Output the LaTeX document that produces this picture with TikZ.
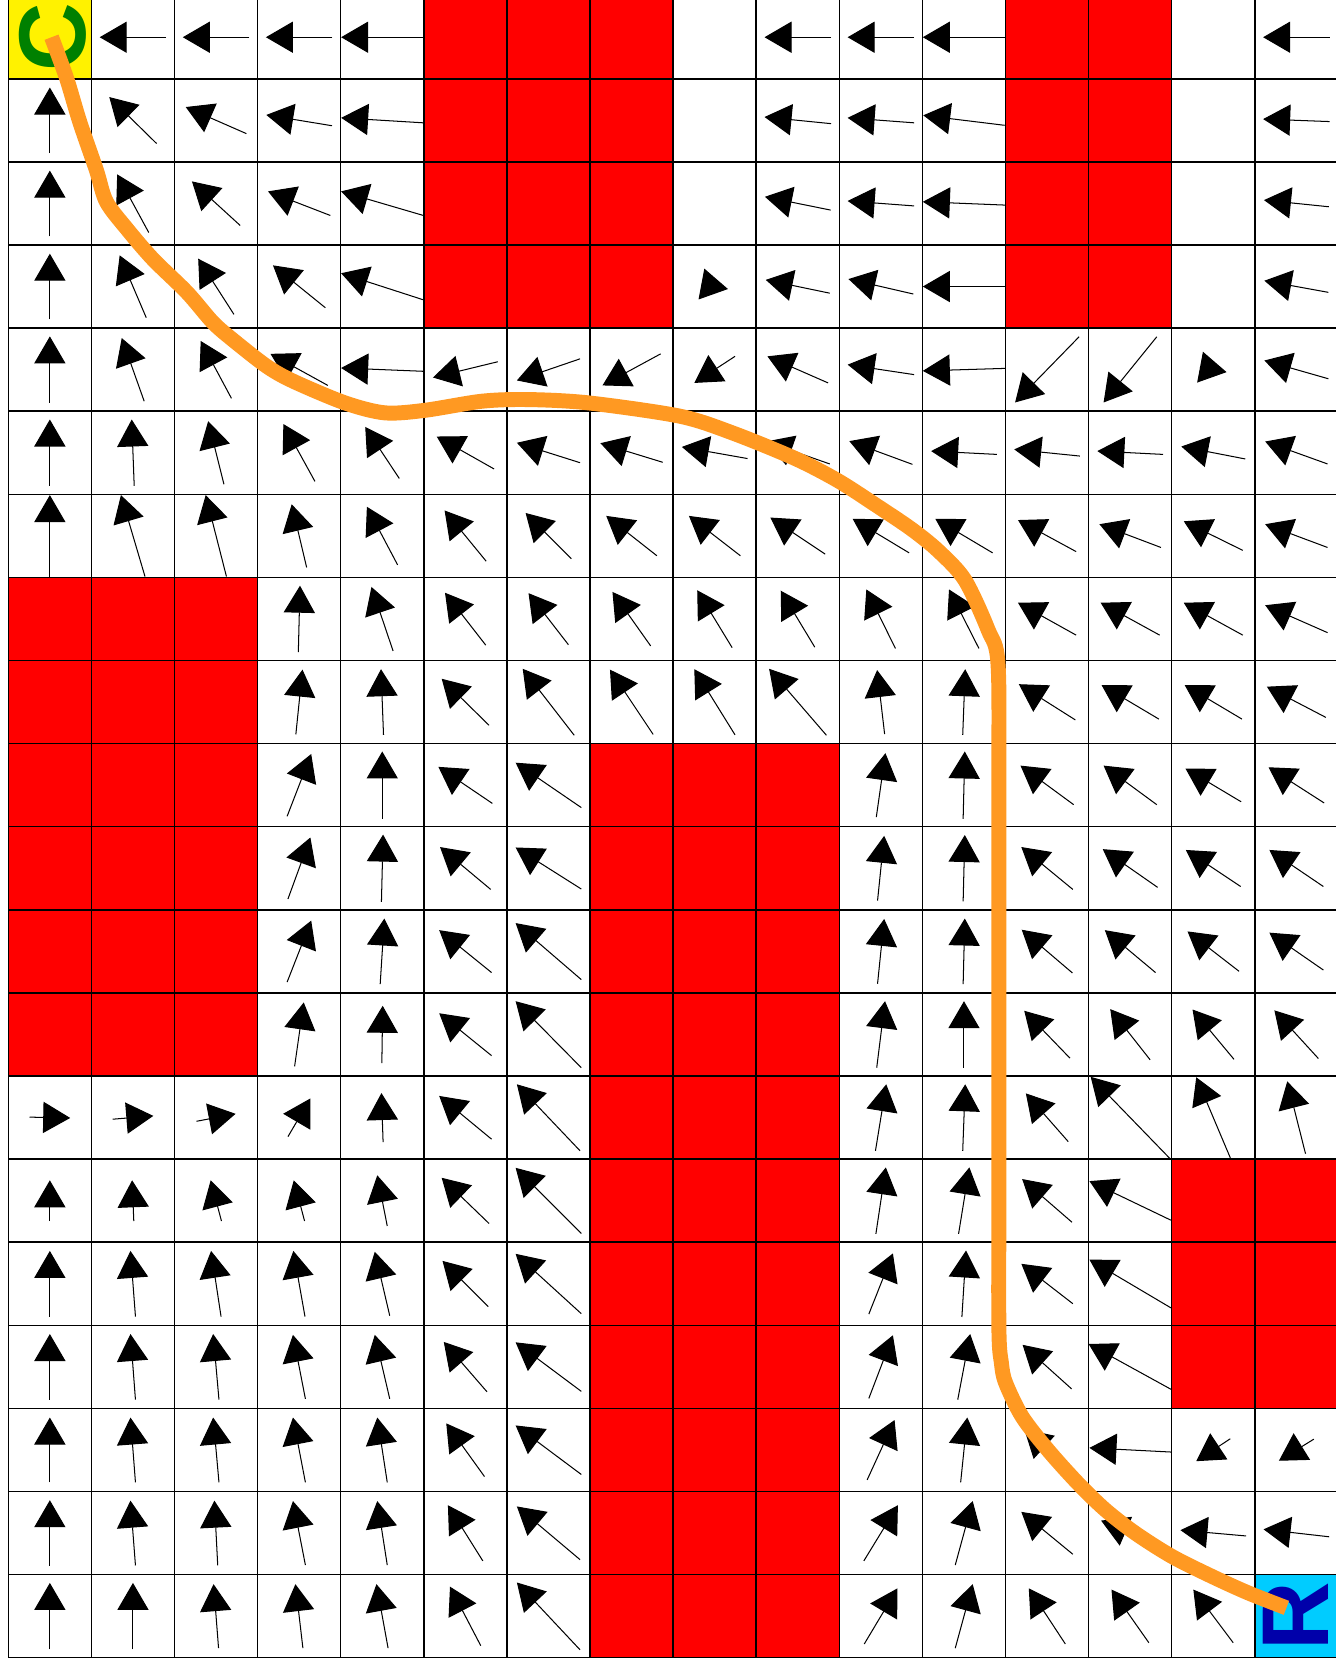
\documentclass[tikz,border=0pt]{standalone}
\usepackage{fontspec}
\newfontfamily\signfont{Liberation Sans}
\usetikzlibrary{arrows.meta}
\definecolor{pathorange}{RGB}{255,153,34}
\definecolor{goalcyan}{RGB}{0,204,255}
\definecolor{goalblue}{RGB}{0,0,170}
\definecolor{startgreen}{RGB}{0,128,0}

\begin{document}
\begin{tikzpicture}[x=1cm, y=-1cm, >={Triangle[length=0.325cm, width=0.375cm]},
  wall/.style={fill=red}, gridline/.style={black, line width=0.5pt},
  vec/.style={->, line width=0.35pt},
  sign/.style={font=\signfont\bfseries\fontsize{32.5}{34}\selectfont, rotate=90, inner sep=0pt},
  route/.style={draw=pathorange, line width=0.18cm, line join=round}]
	\useasboundingbox (-0.1,0.052) rectangle (15.965,20.1);
	\fill[yellow] (0,0) rectangle (1,1);
	\fill[goalcyan] (15,19) rectangle (16,20);
	\foreach \xa/\ya/\xb/\yb in {5/0/8/4, 12/0/14/4, 0/7/3/13, 7/9/10/20, 14/14/16/17}
		\fill[wall] (\xa,\ya) rectangle (\xb,\yb);
	\foreach \i in {0,...,16} \draw[gridline] (\i,0) -- (\i,20);
	\foreach \j in {0,...,20} \draw[gridline] (0,\j) -- (16,\j);
	\foreach \cc/\rr/\dx/\dy in {
		1/0/-0.80/0, 2/0/-0.80/0, 3/0/-0.80/0, 4/0/-0.99/0, 9/0/-0.80/0, 10/0/-0.80/0, 11/0/-0.99/0, 15/0/-0.80/0,
		0/1/0/-0.79, 1/1/-0.57/-0.56, 2/1/-0.73/-0.32, 3/1/-0.79/-0.13, 4/1/-0.99/-0.06, 9/1/-0.80/-0.08, 10/1/-0.80/-0.06, 11/1/-0.98/-0.12, 15/1/-0.80/-0.03,
		0/2/0/-0.79, 1/2/-0.38/-0.70, 2/2/-0.58/-0.53, 3/2/-0.75/-0.29, 4/2/-0.99/-0.29, 9/2/-0.79/-0.16, 10/2/-0.80/-0.06, 11/2/-0.99/-0.04, 15/2/-0.78/-0.08,
		0/3/0/-0.79, 1/3/-0.32/-0.75, 2/3/-0.43/-0.67, 3/3/-0.63/-0.51, 4/3/-0.99/-0.32, 8/3/0.32/0.06, 9/3/-0.77/-0.16, 10/3/-0.78/-0.18, 11/3/-0.99/0, 15/3/-0.77/-0.14,
		0/4/0/-0.80, 1/4/-0.27/-0.76, 2/4/-0.37/-0.69, 3/4/-0.69/-0.38, 4/4/-0.99/-0.04, 5/4/-0.78/0.19, 6/4/-0.76/0.26, 7/4/-0.70/0.38, 8/4/-0.49/0.32, 9/4/-0.73/-0.32, 10/4/-0.80/-0.12, 11/4/-0.99/0.03, 12/4/-0.77/0.79, 13/4/-0.64/0.79, 14/4/0.32/0.06, 15/4/-0.77/-0.22,
		0/5/0/-0.80, 1/5/-0.03/-0.80, 2/5/-0.19/-0.76, 3/5/-0.38/-0.69, 4/5/-0.41/-0.62, 5/5/-0.69/-0.39, 6/5/-0.76/-0.24, 7/5/-0.75/-0.23, 8/5/-0.79/-0.14, 9/5/-0.77/-0.27, 10/5/-0.76/-0.28, 11/5/-0.79/-0.04, 12/5/-0.79/-0.08, 13/5/-0.79/-0.04, 14/5/-0.77/-0.15, 15/5/-0.75/-0.27,
		0/6/0/-0.98, 1/6/-0.29/-0.98, 2/6/-0.25/-0.98, 3/6/-0.18/-0.76, 4/6/-0.37/-0.70, 5/6/-0.50/-0.61, 6/6/-0.55/-0.55, 7/6/-0.61/-0.48, 8/6/-0.62/-0.48, 9/6/-0.66/-0.44, 10/6/-0.68/-0.41, 11/6/-0.69/-0.41, 12/6/-0.70/-0.38, 13/6/-0.74/-0.28, 14/6/-0.71/-0.35, 15/6/-0.75/-0.28,
		3/7/0.02/-0.80, 4/7/-0.26/-0.77, 5/7/-0.49/-0.63, 6/7/-0.48/-0.62, 7/7/-0.46/-0.65, 8/7/-0.42/-0.69, 9/7/-0.41/-0.68, 10/7/-0.35/-0.71, 11/7/-0.36/-0.71, 12/7/-0.70/-0.39, 13/7/-0.71/-0.39, 14/7/-0.71/-0.39, 15/7/-0.75/-0.33,
		3/8/0.08/-0.78, 4/8/-0.03/-0.79, 5/8/-0.57/-0.56, 6/8/-0.62/-0.80, 7/8/-0.52/-0.78, 8/8/-0.49/-0.79, 9/8/-0.69/-0.80, 10/8/-0.09/-0.77, 11/8/0.03/-0.79, 12/8/-0.68/-0.43, 13/8/-0.69/-0.41, 14/8/-0.69/-0.41, 15/8/-0.71/-0.37,
		3/9/0.29/-0.75, 4/9/0/-0.81, 5/9/-0.65/-0.44, 6/9/-0.79/-0.54, 10/9/0.11/-0.77, 11/9/0.02/-0.81, 12/9/-0.64/-0.47, 13/9/-0.64/-0.47, 14/9/-0.67/-0.40, 15/9/-0.67/-0.43,
		3/10/0.27/-0.74, 4/10/0.02/-0.81, 5/10/-0.61/-0.51, 6/10/-0.79/-0.50, 10/10/0.08/-0.78, 11/10/0.02/-0.80, 12/10/-0.62/-0.51, 13/10/-0.66/-0.46, 14/10/-0.66/-0.44, 15/10/-0.65/-0.44,
		3/11/0.29/-0.74, 4/11/0.05/-0.79, 5/11/-0.63/-0.51, 6/11/-0.79/-0.68, 10/11/0.08/-0.78, 11/11/0.02/-0.79, 12/11/-0.61/-0.52, 13/11/-0.61/-0.51, 14/11/-0.62/-0.48, 15/11/-0.65/-0.45,
		3/12/0.11/-0.77, 4/12/0.01/-0.69, 5/12/-0.63/-0.51, 6/12/-0.79/-0.80, 10/12/0.10/-0.80, 11/12/0/-0.80, 12/12/-0.55/-0.57, 13/12/-0.48/-0.61, 14/12/-0.50/-0.60, 15/12/-0.53/-0.58,
		0/13/0.49/0.01, 1/13/0.49/-0.04, 2/13/0.47/-0.09, 3/13/0.27/-0.46, 4/13/-0.02/-0.59, 5/13/-0.63/-0.52, 6/13/-0.76/-0.80, 10/13/0.13/-0.80, 11/13/0.03/-0.80, 12/13/-0.51/-0.58, 13/13/-0.95/-0.98, 14/13/-0.41/-0.97, 15/13/-0.22/-0.87,
		0/14/0/-0.49, 1/14/-0.02/-0.49, 2/14/-0.13/-0.49, 3/14/-0.13/-0.49, 4/14/-0.12/-0.61, 5/14/-0.57/-0.55, 6/14/-0.79/-0.79, 10/14/0.12/-0.80, 11/14/0.13/-0.80, 12/14/-0.60/-0.52, 13/14/-0.98/-0.47,
		0/15/0/-0.79, 1/15/-0.06/-0.79, 2/15/-0.12/-0.79, 3/15/-0.14/-0.79, 4/15/-0.18/-0.77, 5/15/-0.55/-0.55, 6/15/-0.79/-0.72, 10/15/0.29/-0.73, 11/15/0.05/-0.80, 12/15/-0.62/-0.48, 13/15/-0.98/-0.58,
		0/16/0/-0.79, 1/16/-0.06/-0.79, 2/16/-0.07/-0.79, 3/16/-0.15/-0.77, 4/16/-0.18/-0.77, 5/16/-0.52/-0.60, 6/16/-0.79/-0.59, 10/16/0.29/-0.76, 11/16/0.15/-0.79, 12/16/-0.59/-0.53, 13/16/-1.00/-0.55,
		0/17/0/-0.78, 1/17/-0.06/-0.78, 2/17/-0.07/-0.78, 3/17/-0.15/-0.78, 4/17/-0.12/-0.78, 5/17/-0.46/-0.64, 6/17/-0.79/-0.59, 10/17/0.33/-0.72, 11/17/0.08/-0.78, 12/17/-0.55/-0.50, 13/17/-0.98/-0.05, 14/17/-0.41/0.27, 15/17/-0.42/0.26,
		0/18/0/-0.79, 1/18/-0.06/-0.78, 2/18/-0.04/-0.78, 3/18/-0.15/-0.77, 4/18/-0.12/-0.77, 5/18/-0.42/-0.67, 6/18/-0.76/-0.64, 10/18/0.41/-0.67, 11/18/0.21/-0.77, 12/18/-0.62/-0.51, 13/18/-0.70/-0.30, 14/18/-0.79/-0.07, 15/18/-0.79/-0.09,
		0/19/0/-0.80, 1/19/0/-0.80, 2/19/-0.06/-0.77, 3/19/-0.09/-0.77, 4/19/-0.14/-0.77, 5/19/-0.37/-0.71, 6/19/-0.76/-0.81, 10/19/0.40/-0.67, 11/19/0.21/-0.77, 12/19/-0.44/-0.67, 13/19/-0.45/-0.64, 14/19/-0.48/-0.64}
		\draw[vec] ({\cc+0.5-0.5*(\dx)},{\rr+0.5-0.5*(\dy)}) -- ++(\dx,\dy);
	\node[sign, text=startgreen] (start) at (0.53,0.50) {C};
	\node[sign, text=goalblue] (goal) at (15.49,19.50) {R};
	\draw[route] plot[smooth, tension=0.5] coordinates {(0.52,0.50) (0.70,0.99) (0.86,1.52) (1.06,2.10) (1.18,2.48) (1.43,2.81) (1.74,3.17) (2.15,3.57) (2.46,3.93) (2.70,4.14) (3.11,4.46) (3.43,4.64) (4.05,4.90) (4.53,5.02) (5.01,4.99) (5.70,4.88) (6.25,4.86) (6.98,4.90) (8.08,5.06) (8.71,5.26) (9.47,5.57) (9.99,5.84) (10.47,6.15) (10.87,6.42) (11.19,6.68) (11.51,7.03) (11.79,7.63) (11.91,8.05) (11.92,9.68) (11.92,14.07) (11.92,16.02) (11.95,16.45) (12.00,16.69) (12.20,17.10) (12.51,17.50) (12.87,17.90) (13.20,18.22) (13.56,18.50) (14.00,18.78) (14.48,19.02) (14.92,19.22) (15.38,19.40)};
\end{tikzpicture}
\end{document}
